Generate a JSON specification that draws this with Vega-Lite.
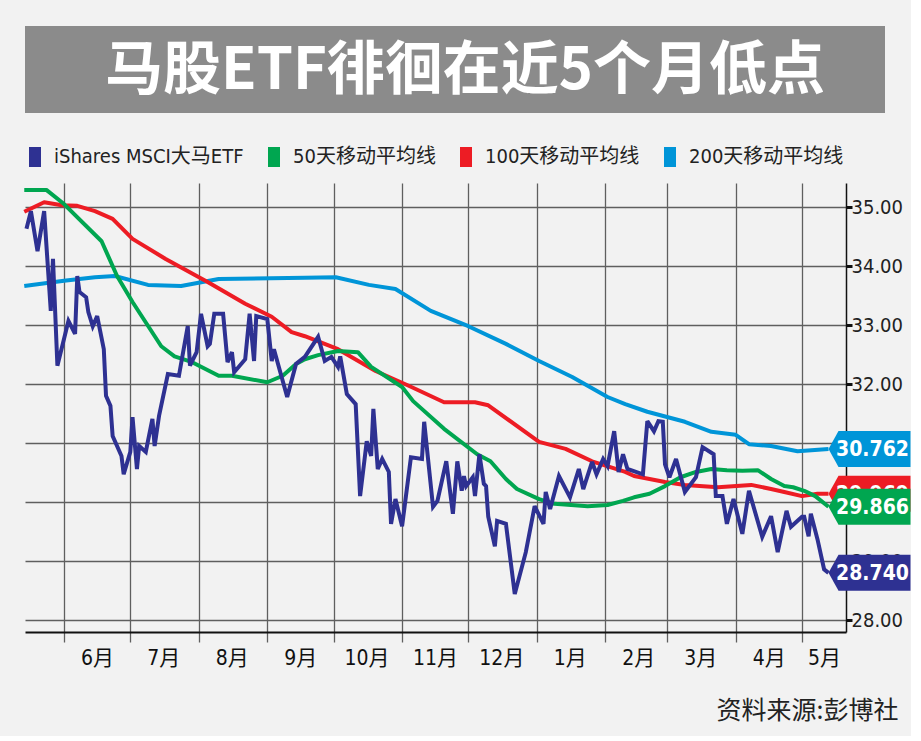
{
 "$schema": "https://vega.github.io/schema/vega-lite/v6.json",
 "background": "#f2f2f2",
 "padding": {"left": 20, "top": 26, "right": 0, "bottom": 13},
 "spacing": 34,
 "resolve": {"legend": {"fill": "independent"}, "scale": {"fill": "independent"}},
 "config": {"view": {"stroke": null}, "font": "DejaVu Sans Condensed, Roboto, sans-serif"},
 "datasets": {
  "labels": [
   {"series": "200天移动平均线", "date": "2019-05-13", "value": 30.90, "label": "30.762"},
   {"series": "100天移动平均线", "date": "2019-05-13", "value": 30.14, "label": "29.969"},
   {"series": "50天移动平均线", "date": "2019-05-13", "value": 29.92, "label": "29.866"},
   {"series": "iShares MSCI大马ETF", "date": "2019-05-13", "value": 28.80, "label": "28.740"}
  ],
  "lines": [
   {"series": "200天移动平均线", "date": "2018-05-14", "value": 33.66},
   {"series": "200天移动平均线", "date": "2018-06-01", "value": 33.75},
   {"series": "200天移动平均线", "date": "2018-06-15", "value": 33.81},
   {"series": "200天移动平均线", "date": "2018-06-24", "value": 33.83},
   {"series": "200天移动平均线", "date": "2018-07-09", "value": 33.68},
   {"series": "200天移动平均线", "date": "2018-07-24", "value": 33.66},
   {"series": "200天移动平均线", "date": "2018-08-10", "value": 33.78},
   {"series": "200天移动平均线", "date": "2018-09-18", "value": 33.80},
   {"series": "200天移动平均线", "date": "2018-10-02", "value": 33.81},
   {"series": "200天移动平均线", "date": "2018-10-17", "value": 33.68},
   {"series": "200天移动平均线", "date": "2018-10-29", "value": 33.61},
   {"series": "200天移动平均线", "date": "2018-11-14", "value": 33.24},
   {"series": "200天移动平均线", "date": "2018-12-01", "value": 32.98},
   {"series": "200天移动平均线", "date": "2018-12-18", "value": 32.68},
   {"series": "200天移动平均线", "date": "2019-01-02", "value": 32.39},
   {"series": "200天移动平均线", "date": "2019-01-17", "value": 32.12},
   {"series": "200天移动平均线", "date": "2019-02-02", "value": 31.78},
   {"series": "200天移动平均线", "date": "2019-02-10", "value": 31.66},
   {"series": "200天移动平均线", "date": "2019-02-20", "value": 31.53},
   {"series": "200天移动平均线", "date": "2019-03-09", "value": 31.36},
   {"series": "200天移动平均线", "date": "2019-03-21", "value": 31.19},
   {"series": "200天移动平均线", "date": "2019-04-01", "value": 31.14},
   {"series": "200天移动平均线", "date": "2019-04-07", "value": 30.98},
   {"series": "200天移动平均线", "date": "2019-04-17", "value": 30.95},
   {"series": "200天移动平均线", "date": "2019-04-29", "value": 30.86},
   {"series": "200天移动平均线", "date": "2019-05-13", "value": 30.90},

   {"series": "100天移动平均线", "date": "2018-05-14", "value": 34.92},
   {"series": "100天移动平均线", "date": "2018-05-23", "value": 35.08},
   {"series": "100天移动平均线", "date": "2018-05-31", "value": 35.03},
   {"series": "100天移动平均线", "date": "2018-06-07", "value": 35.02},
   {"series": "100天移动平均线", "date": "2018-06-15", "value": 34.93},
   {"series": "100天移动平均线", "date": "2018-06-23", "value": 34.80},
   {"series": "100天移动平均线", "date": "2018-07-02", "value": 34.46},
   {"series": "100天移动平均线", "date": "2018-07-17", "value": 34.12},
   {"series": "100天移动平均线", "date": "2018-08-05", "value": 33.73},
   {"series": "100天移动平均线", "date": "2018-08-22", "value": 33.36},
   {"series": "100天移动平均线", "date": "2018-09-03", "value": 33.14},
   {"series": "100天移动平均线", "date": "2018-09-12", "value": 32.88},
   {"series": "100天移动平均线", "date": "2018-09-18", "value": 32.81},
   {"series": "100天移动平均线", "date": "2018-10-03", "value": 32.59},
   {"series": "100天移动平均线", "date": "2018-10-20", "value": 32.22},
   {"series": "100天移动平均线", "date": "2018-11-04", "value": 31.97},
   {"series": "100天移动平均线", "date": "2018-11-20", "value": 31.69},
   {"series": "100天移动平均线", "date": "2018-12-04", "value": 31.69},
   {"series": "100天移动平均线", "date": "2018-12-10", "value": 31.64},
   {"series": "100天移动平均线", "date": "2019-01-02", "value": 31.02},
   {"series": "100天移动平均线", "date": "2019-01-14", "value": 30.90},
   {"series": "100天移动平均线", "date": "2019-01-26", "value": 30.69},
   {"series": "100天移动平均线", "date": "2019-02-10", "value": 30.51},
   {"series": "100天移动平均线", "date": "2019-02-14", "value": 30.44},
   {"series": "100天移动平均线", "date": "2019-02-28", "value": 30.34},
   {"series": "100天移动平均线", "date": "2019-03-09", "value": 30.29},
   {"series": "100天移动平均线", "date": "2019-03-24", "value": 30.25},
   {"series": "100天移动平均线", "date": "2019-04-08", "value": 30.29},
   {"series": "100天移动平均线", "date": "2019-04-17", "value": 30.22},
   {"series": "100天移动平均线", "date": "2019-04-23", "value": 30.17},
   {"series": "100天移动平均线", "date": "2019-05-01", "value": 30.10},
   {"series": "100天移动平均线", "date": "2019-05-08", "value": 30.14},
   {"series": "100天移动平均线", "date": "2019-05-13", "value": 30.14},

   {"series": "50天移动平均线", "date": "2018-05-14", "value": 35.29},
   {"series": "50天移动平均线", "date": "2018-05-24", "value": 35.29},
   {"series": "50天移动平均线", "date": "2018-06-01", "value": 35.05},
   {"series": "50天移动平均线", "date": "2018-06-18", "value": 34.42},
   {"series": "50天移动平均线", "date": "2018-06-25", "value": 33.83},
   {"series": "50天移动平均线", "date": "2018-07-02", "value": 33.39},
   {"series": "50天移动平均线", "date": "2018-07-15", "value": 32.64},
   {"series": "50天移动平均线", "date": "2018-07-21", "value": 32.47},
   {"series": "50天移动平均线", "date": "2018-07-29", "value": 32.37},
   {"series": "50天移动平均线", "date": "2018-08-10", "value": 32.14},
   {"series": "50天移动平均线", "date": "2018-08-16", "value": 32.14},
   {"series": "50天移动平均线", "date": "2018-09-01", "value": 32.03},
   {"series": "50天移动平均线", "date": "2018-09-08", "value": 32.14},
   {"series": "50天移动平均线", "date": "2018-09-14", "value": 32.34},
   {"series": "50天移动平均线", "date": "2018-09-18", "value": 32.42},
   {"series": "50天移动平均线", "date": "2018-09-24", "value": 32.49},
   {"series": "50天移动平均线", "date": "2018-10-03", "value": 32.56},
   {"series": "50天移动平均线", "date": "2018-10-12", "value": 32.54},
   {"series": "50天移动平均线", "date": "2018-10-18", "value": 32.29},
   {"series": "50天移动平均线", "date": "2018-11-01", "value": 31.95},
   {"series": "50天移动平均线", "date": "2018-11-06", "value": 31.71},
   {"series": "50天移动平均线", "date": "2018-11-20", "value": 31.24},
   {"series": "50天移动平均线", "date": "2018-12-05", "value": 30.81},
   {"series": "50天移动平均线", "date": "2018-12-11", "value": 30.69},
   {"series": "50天移动平均线", "date": "2018-12-18", "value": 30.39},
   {"series": "50天移动平均线", "date": "2018-12-23", "value": 30.22},
   {"series": "50天移动平均线", "date": "2019-01-02", "value": 30.05},
   {"series": "50天移动平均线", "date": "2019-01-09", "value": 29.97},
   {"series": "50天移动平均线", "date": "2019-01-24", "value": 29.93},
   {"series": "50天移动平均线", "date": "2019-02-02", "value": 29.95},
   {"series": "50天移动平均线", "date": "2019-02-09", "value": 30.02},
   {"series": "50天移动平均线", "date": "2019-02-14", "value": 30.08},
   {"series": "50天移动平均线", "date": "2019-02-21", "value": 30.14},
   {"series": "50天移动平均线", "date": "2019-02-28", "value": 30.27},
   {"series": "50天移动平均线", "date": "2019-03-07", "value": 30.42},
   {"series": "50天移动平均线", "date": "2019-03-14", "value": 30.51},
   {"series": "50天移动平均线", "date": "2019-03-21", "value": 30.56},
   {"series": "50天移动平均线", "date": "2019-03-28", "value": 30.54},
   {"series": "50天移动平均线", "date": "2019-04-04", "value": 30.53},
   {"series": "50天移动平均线", "date": "2019-04-11", "value": 30.54},
   {"series": "50天移动平均线", "date": "2019-04-17", "value": 30.39},
   {"series": "50天移动平均线", "date": "2019-04-23", "value": 30.27},
   {"series": "50天移动平均线", "date": "2019-04-27", "value": 30.25},
   {"series": "50天移动平均线", "date": "2019-05-02", "value": 30.19},
   {"series": "50天移动平均线", "date": "2019-05-07", "value": 30.10},
   {"series": "50天移动平均线", "date": "2019-05-13", "value": 29.92},

   {"series": "iShares MSCI大马ETF", "date": "2018-05-15", "value": 34.63},
   {"series": "iShares MSCI大马ETF", "date": "2018-05-17", "value": 34.93},
   {"series": "iShares MSCI大马ETF", "date": "2018-05-20", "value": 34.25},
   {"series": "iShares MSCI大马ETF", "date": "2018-05-23", "value": 34.93},
   {"series": "iShares MSCI大马ETF", "date": "2018-05-26", "value": 33.24},
   {"series": "iShares MSCI大马ETF", "date": "2018-05-27", "value": 34.12},
   {"series": "iShares MSCI大马ETF", "date": "2018-05-29", "value": 32.31},
   {"series": "iShares MSCI大马ETF", "date": "2018-06-03", "value": 33.07},
   {"series": "iShares MSCI大马ETF", "date": "2018-06-06", "value": 32.85},
   {"series": "iShares MSCI大马ETF", "date": "2018-06-07", "value": 33.83},
   {"series": "iShares MSCI大马ETF", "date": "2018-06-08", "value": 33.56},
   {"series": "iShares MSCI大马ETF", "date": "2018-06-11", "value": 33.47},
   {"series": "iShares MSCI大马ETF", "date": "2018-06-12", "value": 33.22},
   {"series": "iShares MSCI大马ETF", "date": "2018-06-14", "value": 32.98},
   {"series": "iShares MSCI大马ETF", "date": "2018-06-16", "value": 33.15},
   {"series": "iShares MSCI大马ETF", "date": "2018-06-19", "value": 32.59},
   {"series": "iShares MSCI大马ETF", "date": "2018-06-20", "value": 31.80},
   {"series": "iShares MSCI大马ETF", "date": "2018-06-22", "value": 31.63},
   {"series": "iShares MSCI大马ETF", "date": "2018-06-23", "value": 31.12},
   {"series": "iShares MSCI大马ETF", "date": "2018-06-27", "value": 30.78},
   {"series": "iShares MSCI大马ETF", "date": "2018-06-28", "value": 30.47},
   {"series": "iShares MSCI大马ETF", "date": "2018-07-01", "value": 30.85},
   {"series": "iShares MSCI大马ETF", "date": "2018-07-02", "value": 31.44},
   {"series": "iShares MSCI大马ETF", "date": "2018-07-04", "value": 30.56},
   {"series": "iShares MSCI大马ETF", "date": "2018-07-05", "value": 30.95},
   {"series": "iShares MSCI大马ETF", "date": "2018-07-08", "value": 30.85},
   {"series": "iShares MSCI大马ETF", "date": "2018-07-11", "value": 31.41},
   {"series": "iShares MSCI大马ETF", "date": "2018-07-12", "value": 30.95},
   {"series": "iShares MSCI大马ETF", "date": "2018-07-14", "value": 31.46},
   {"series": "iShares MSCI大马ETF", "date": "2018-07-18", "value": 32.17},
   {"series": "iShares MSCI大马ETF", "date": "2018-07-23", "value": 32.14},
   {"series": "iShares MSCI大马ETF", "date": "2018-07-27", "value": 32.98},
   {"series": "iShares MSCI大马ETF", "date": "2018-07-28", "value": 32.31},
   {"series": "iShares MSCI大马ETF", "date": "2018-07-31", "value": 32.54},
   {"series": "iShares MSCI大马ETF", "date": "2018-08-02", "value": 33.19},
   {"series": "iShares MSCI大马ETF", "date": "2018-08-05", "value": 32.64},
   {"series": "iShares MSCI大马ETF", "date": "2018-08-06", "value": 32.68},
   {"series": "iShares MSCI大马ETF", "date": "2018-08-08", "value": 33.19},
   {"series": "iShares MSCI大马ETF", "date": "2018-08-12", "value": 33.19},
   {"series": "iShares MSCI大马ETF", "date": "2018-08-14", "value": 32.37},
   {"series": "iShares MSCI大马ETF", "date": "2018-08-16", "value": 32.54},
   {"series": "iShares MSCI大马ETF", "date": "2018-08-17", "value": 32.20},
   {"series": "iShares MSCI大马ETF", "date": "2018-08-22", "value": 32.42},
   {"series": "iShares MSCI大马ETF", "date": "2018-08-24", "value": 33.19},
   {"series": "iShares MSCI大马ETF", "date": "2018-08-26", "value": 32.39},
   {"series": "iShares MSCI大马ETF", "date": "2018-08-27", "value": 33.15},
   {"series": "iShares MSCI大马ETF", "date": "2018-09-01", "value": 33.10},
   {"series": "iShares MSCI大马ETF", "date": "2018-09-03", "value": 32.39},
   {"series": "iShares MSCI大马ETF", "date": "2018-09-04", "value": 32.59},
   {"series": "iShares MSCI大马ETF", "date": "2018-09-10", "value": 31.78},
   {"series": "iShares MSCI大马ETF", "date": "2018-09-14", "value": 32.34},
   {"series": "iShares MSCI大马ETF", "date": "2018-09-18", "value": 32.46},
   {"series": "iShares MSCI大马ETF", "date": "2018-09-24", "value": 32.80},
   {"series": "iShares MSCI大马ETF", "date": "2018-09-27", "value": 32.39},
   {"series": "iShares MSCI大马ETF", "date": "2018-09-30", "value": 32.46},
   {"series": "iShares MSCI大马ETF", "date": "2018-10-03", "value": 32.29},
   {"series": "iShares MSCI大马ETF", "date": "2018-10-04", "value": 32.47},
   {"series": "iShares MSCI大马ETF", "date": "2018-10-07", "value": 31.83},
   {"series": "iShares MSCI大马ETF", "date": "2018-10-11", "value": 31.66},
   {"series": "iShares MSCI大马ETF", "date": "2018-10-13", "value": 30.10},
   {"series": "iShares MSCI大马ETF", "date": "2018-10-16", "value": 31.03},
   {"series": "iShares MSCI大马ETF", "date": "2018-10-18", "value": 30.78},
   {"series": "iShares MSCI大马ETF", "date": "2018-10-19", "value": 31.58},
   {"series": "iShares MSCI大马ETF", "date": "2018-10-21", "value": 30.56},
   {"series": "iShares MSCI大马ETF", "date": "2018-10-23", "value": 30.73},
   {"series": "iShares MSCI大马ETF", "date": "2018-10-26", "value": 30.51},
   {"series": "iShares MSCI大马ETF", "date": "2018-10-27", "value": 29.63},
   {"series": "iShares MSCI大马ETF", "date": "2018-10-29", "value": 30.05},
   {"series": "iShares MSCI大马ETF", "date": "2018-11-01", "value": 29.59},
   {"series": "iShares MSCI大马ETF", "date": "2018-11-05", "value": 30.76},
   {"series": "iShares MSCI大马ETF", "date": "2018-11-10", "value": 30.73},
   {"series": "iShares MSCI大马ETF", "date": "2018-11-11", "value": 31.36},
   {"series": "iShares MSCI大马ETF", "date": "2018-11-15", "value": 29.92},
   {"series": "iShares MSCI大马ETF", "date": "2018-11-17", "value": 30.02},
   {"series": "iShares MSCI大马ETF", "date": "2018-11-21", "value": 30.69},
   {"series": "iShares MSCI大马ETF", "date": "2018-11-24", "value": 29.80},
   {"series": "iShares MSCI大马ETF", "date": "2018-11-26", "value": 30.69},
   {"series": "iShares MSCI大马ETF", "date": "2018-11-28", "value": 30.19},
   {"series": "iShares MSCI大马ETF", "date": "2018-11-29", "value": 30.44},
   {"series": "iShares MSCI大马ETF", "date": "2018-11-30", "value": 30.27},
   {"series": "iShares MSCI大马ETF", "date": "2018-12-03", "value": 30.42},
   {"series": "iShares MSCI大马ETF", "date": "2018-12-04", "value": 30.10},
   {"series": "iShares MSCI大马ETF", "date": "2018-12-06", "value": 30.81},
   {"series": "iShares MSCI大马ETF", "date": "2018-12-08", "value": 30.31},
   {"series": "iShares MSCI大马ETF", "date": "2018-12-09", "value": 30.27},
   {"series": "iShares MSCI大马ETF", "date": "2018-12-10", "value": 29.75},
   {"series": "iShares MSCI大马ETF", "date": "2018-12-13", "value": 29.25},
   {"series": "iShares MSCI大马ETF", "date": "2018-12-14", "value": 29.68},
   {"series": "iShares MSCI大马ETF", "date": "2018-12-18", "value": 29.63},
   {"series": "iShares MSCI大马ETF", "date": "2018-12-22", "value": 28.44},
   {"series": "iShares MSCI大马ETF", "date": "2018-12-27", "value": 29.15},
   {"series": "iShares MSCI大马ETF", "date": "2018-12-31", "value": 29.93},
   {"series": "iShares MSCI大马ETF", "date": "2019-01-04", "value": 29.63},
   {"series": "iShares MSCI大马ETF", "date": "2019-01-05", "value": 30.17},
   {"series": "iShares MSCI大马ETF", "date": "2019-01-07", "value": 29.88},
   {"series": "iShares MSCI大马ETF", "date": "2019-01-11", "value": 30.44},
   {"series": "iShares MSCI大马ETF", "date": "2019-01-16", "value": 30.08},
   {"series": "iShares MSCI大马ETF", "date": "2019-01-20", "value": 30.56},
   {"series": "iShares MSCI大马ETF", "date": "2019-01-22", "value": 30.22},
   {"series": "iShares MSCI大马ETF", "date": "2019-01-26", "value": 30.68},
   {"series": "iShares MSCI大马ETF", "date": "2019-01-28", "value": 30.47},
   {"series": "iShares MSCI大马ETF", "date": "2019-01-31", "value": 30.73},
   {"series": "iShares MSCI大马ETF", "date": "2019-02-02", "value": 30.61},
   {"series": "iShares MSCI大马ETF", "date": "2019-02-05", "value": 31.20},
   {"series": "iShares MSCI大马ETF", "date": "2019-02-07", "value": 30.51},
   {"series": "iShares MSCI大马ETF", "date": "2019-02-09", "value": 30.81},
   {"series": "iShares MSCI大马ETF", "date": "2019-02-11", "value": 30.56},
   {"series": "iShares MSCI大马ETF", "date": "2019-02-18", "value": 30.47},
   {"series": "iShares MSCI大马ETF", "date": "2019-02-20", "value": 31.37},
   {"series": "iShares MSCI大马ETF", "date": "2019-02-23", "value": 31.20},
   {"series": "iShares MSCI大马ETF", "date": "2019-02-25", "value": 31.37},
   {"series": "iShares MSCI大马ETF", "date": "2019-02-27", "value": 31.36},
   {"series": "iShares MSCI大马ETF", "date": "2019-02-28", "value": 30.64},
   {"series": "iShares MSCI大马ETF", "date": "2019-03-02", "value": 30.42},
   {"series": "iShares MSCI大马ETF", "date": "2019-03-05", "value": 30.73},
   {"series": "iShares MSCI大马ETF", "date": "2019-03-09", "value": 30.17},
   {"series": "iShares MSCI大马ETF", "date": "2019-03-14", "value": 30.42},
   {"series": "iShares MSCI大马ETF", "date": "2019-03-17", "value": 30.93},
   {"series": "iShares MSCI大马ETF", "date": "2019-03-22", "value": 30.81},
   {"series": "iShares MSCI大马ETF", "date": "2019-03-23", "value": 30.10},
   {"series": "iShares MSCI大马ETF", "date": "2019-03-26", "value": 30.10},
   {"series": "iShares MSCI大马ETF", "date": "2019-03-28", "value": 29.63},
   {"series": "iShares MSCI大马ETF", "date": "2019-03-31", "value": 30.05},
   {"series": "iShares MSCI大马ETF", "date": "2019-04-04", "value": 29.46},
   {"series": "iShares MSCI大马ETF", "date": "2019-04-07", "value": 30.19},
   {"series": "iShares MSCI大马ETF", "date": "2019-04-13", "value": 29.41},
   {"series": "iShares MSCI大马ETF", "date": "2019-04-17", "value": 29.76},
   {"series": "iShares MSCI大马ETF", "date": "2019-04-20", "value": 29.15},
   {"series": "iShares MSCI大马ETF", "date": "2019-04-24", "value": 29.85},
   {"series": "iShares MSCI大马ETF", "date": "2019-04-26", "value": 29.58},
   {"series": "iShares MSCI大马ETF", "date": "2019-05-01", "value": 29.75},
   {"series": "iShares MSCI大马ETF", "date": "2019-05-02", "value": 29.75},
   {"series": "iShares MSCI大马ETF", "date": "2019-05-04", "value": 29.42},
   {"series": "iShares MSCI大马ETF", "date": "2019-05-05", "value": 29.80},
   {"series": "iShares MSCI大马ETF", "date": "2019-05-08", "value": 29.37},
   {"series": "iShares MSCI大马ETF", "date": "2019-05-11", "value": 28.86},
   {"series": "iShares MSCI大马ETF", "date": "2019-05-13", "value": 28.80}
  ]
 },
 "vconcat": [
  {
   "width": 860,
   "height": 87,
   "view": {"fill": "#8b8b8b", "stroke": null},
   "data": {"values": [{"t": "马股ETF徘徊在近5个月低点"}]},
   "mark": {"type": "text", "font": "Noto Sans CJK SC", "fontWeight": "bold", "fontSize": 58, "color": "#ffffff", "baseline": "middle", "align": "center", "dx": 10, "dy": 2},
   "encoding": {"text": {"field": "t", "type": "nominal"}}
  },
  {
   "width": 821,
   "height": 449,
   "encoding": {
    "x": {
     "field": "date", "type": "temporal",
     "scale": {"type": "utc", "domain": [{"year": 2018, "month": 5, "date": 14, "hours": 8, "utc": true}, {"year": 2019, "month": 5, "date": 20, "hours": 22, "utc": true}]},
     "axis": {
      "tickCount": {"interval": "month", "step": 1},
      "grid": true, "gridColor": "#5f5f5f", "gridWidth": 1.3, "gridOpacity": 1,
      "domainColor": "#111111", "domainWidth": 2,
      "ticks": true, "tickSize": 10, "tickColor": "#5f5f5f", "tickWidth": 1.3,
      "labelExpr": "utcFormat(datum.value, '%-m') + '月'",
      "labelOffset": {"condition": {"test": "utcmonth(datum.value) === 4", "value": 22}, "value": 33},
      "labelAlign": "center", "labelBaseline": "top", "labelPadding": 5,
      "labelFont": "DejaVu Sans Condensed, Roboto, Noto Sans CJK SC", "labelFontSize": 21, "labelColor": "#111111",
      "labelFlush": false, "labelOverlap": false,
      "title": "资料来源:彭博社",
      "titleFont": "Noto Sans CJK SC", "titleFontSize": 25, "titleFontWeight": "normal", "titleColor": "#222222",
      "titleAlign": "right", "titleBaseline": "middle", "titleX": 873, "titleY": 78
     }
    },
    "y": {
     "field": "value", "type": "quantitative",
     "scale": {"domain": [27.797, 35.407], "nice": false, "zero": false},
     "axis": {
      "orient": "right", "values": [28, 29, 30, 31, 32, 33, 34, 35], "format": ".2f",
      "grid": true, "gridColor": "#5f5f5f", "gridWidth": 1.3, "gridOpacity": 1,
      "domainColor": "#111111", "domainWidth": 1.5,
      "tickSize": 6, "tickWidth": 3, "tickColor": "#111111",
      "labelFont": "DejaVu Sans Condensed, Roboto", "labelFontSize": 20, "labelColor": "#222222", "labelPadding": -1,
      "title": null
     }
    }
   },
   "layer": [
    {
     "data": {"name": "lines"},
     "transform": [{"filter": "datum.series === '200天移动平均线'"}],
     "mark": {"type": "line", "strokeWidth": 4, "strokeJoin": "round"},
     "encoding": {"stroke": {"field": "series", "type": "nominal", "legend": null, "scale": {"domain": ["200天移动平均线", "100天移动平均线", "50天移动平均线", "iShares MSCI大马ETF"], "range": ["#0095d8", "#ed1c24", "#00a650", "#2e3192"]}}}
    },
    {
     "data": {"name": "lines"},
     "transform": [{"filter": "datum.series === '100天移动平均线'"}],
     "mark": {"type": "line", "strokeWidth": 4, "strokeJoin": "round"},
     "encoding": {"stroke": {"field": "series", "type": "nominal", "legend": null, "scale": {"domain": ["200天移动平均线", "100天移动平均线", "50天移动平均线", "iShares MSCI大马ETF"], "range": ["#0095d8", "#ed1c24", "#00a650", "#2e3192"]}}}
    },
    {
     "data": {"name": "lines"},
     "transform": [{"filter": "datum.series === '50天移动平均线'"}],
     "mark": {"type": "line", "strokeWidth": 4, "strokeJoin": "round"},
     "encoding": {"stroke": {"field": "series", "type": "nominal", "legend": null, "scale": {"domain": ["200天移动平均线", "100天移动平均线", "50天移动平均线", "iShares MSCI大马ETF"], "range": ["#0095d8", "#ed1c24", "#00a650", "#2e3192"]}}}
    },
    {
     "data": {"name": "lines"},
     "transform": [{"filter": "datum.series === 'iShares MSCI大马ETF'"}],
     "mark": {"type": "line", "strokeWidth": 4, "strokeJoin": "miter", "strokeMiterLimit": 3},
     "encoding": {"stroke": {"field": "series", "type": "nominal", "legend": null, "scale": {"domain": ["200天移动平均线", "100天移动平均线", "50天移动平均线", "iShares MSCI大马ETF"], "range": ["#0095d8", "#ed1c24", "#00a650", "#2e3192"]}}}
    },
    {
     "data": {"name": "labels"},
     "transform": [{"filter": "datum.series === '200天移动平均线'"}],
     "layer": [
      {
       "mark": {"type": "point", "shape": "M0,0L0.5,-0.9L4.1,-0.9L4.1,0.9L0.5,0.9Z", "size": 1600, "filled": true, "opacity": 1, "strokeWidth": 0},
       "encoding": {"fill": {"field": "series", "type": "nominal", "scale": {"domain": ["iShares MSCI大马ETF", "50天移动平均线", "100天移动平均线", "200天移动平均线"], "range": ["#2e3192", "#00a650", "#ed1c24", "#0095d8"]}, "legend": {"orient": "top", "direction": "horizontal", "title": null, "symbolType": "M-0.6,-1H0.6V1H-0.6Z", "symbolSize": 400, "symbolStrokeWidth": 0, "symbolOpacity": 1, "labelFont": "DejaVu Sans Condensed, Roboto, Noto Sans CJK SC", "labelFontSize": 20, "labelColor": "#222222", "labelOffset": 9, "labelLimit": 400, "columnPadding": 20, "offset": 16, "padding": 0}}}
      },
      {
       "mark": {"type": "text", "color": "#ffffff", "font": "DejaVu Sans Condensed, Roboto", "fontWeight": "bold", "fontSize": 21, "dx": 44, "dy": 1, "align": "center", "baseline": "middle"},
       "encoding": {"text": {"field": "label", "type": "nominal"}}
      }
     ]
    },
    {
     "data": {"name": "labels"},
     "transform": [{"filter": "datum.series === '100天移动平均线'"}],
     "layer": [
      {
       "mark": {"type": "point", "shape": "M0,0L0.5,-0.9L4.1,-0.9L4.1,0.9L0.5,0.9Z", "size": 1600, "filled": true, "opacity": 1, "strokeWidth": 0},
       "encoding": {"fill": {"field": "series", "type": "nominal", "scale": {"domain": ["iShares MSCI大马ETF", "50天移动平均线", "100天移动平均线", "200天移动平均线"], "range": ["#2e3192", "#00a650", "#ed1c24", "#0095d8"]}, "legend": {"orient": "top", "direction": "horizontal", "title": null, "symbolType": "M-0.6,-1H0.6V1H-0.6Z", "symbolSize": 400, "symbolStrokeWidth": 0, "symbolOpacity": 1, "labelFont": "DejaVu Sans Condensed, Roboto, Noto Sans CJK SC", "labelFontSize": 20, "labelColor": "#222222", "labelOffset": 9, "labelLimit": 400, "columnPadding": 20, "offset": 16, "padding": 0}}}
      },
      {
       "mark": {"type": "text", "color": "#ffffff", "font": "DejaVu Sans Condensed, Roboto", "fontWeight": "bold", "fontSize": 21, "dx": 44, "dy": 1, "align": "center", "baseline": "middle"},
       "encoding": {"text": {"field": "label", "type": "nominal"}}
      }
     ]
    },
    {
     "data": {"name": "labels"},
     "transform": [{"filter": "datum.series === '50天移动平均线'"}],
     "layer": [
      {
       "mark": {"type": "point", "shape": "M0,0L0.5,-0.9L4.1,-0.9L4.1,0.9L0.5,0.9Z", "size": 1600, "filled": true, "opacity": 1, "strokeWidth": 0},
       "encoding": {"fill": {"field": "series", "type": "nominal", "scale": {"domain": ["iShares MSCI大马ETF", "50天移动平均线", "100天移动平均线", "200天移动平均线"], "range": ["#2e3192", "#00a650", "#ed1c24", "#0095d8"]}, "legend": {"orient": "top", "direction": "horizontal", "title": null, "symbolType": "M-0.6,-1H0.6V1H-0.6Z", "symbolSize": 400, "symbolStrokeWidth": 0, "symbolOpacity": 1, "labelFont": "DejaVu Sans Condensed, Roboto, Noto Sans CJK SC", "labelFontSize": 20, "labelColor": "#222222", "labelOffset": 9, "labelLimit": 400, "columnPadding": 20, "offset": 16, "padding": 0}}}
      },
      {
       "mark": {"type": "text", "color": "#ffffff", "font": "DejaVu Sans Condensed, Roboto", "fontWeight": "bold", "fontSize": 21, "dx": 44, "dy": 1, "align": "center", "baseline": "middle"},
       "encoding": {"text": {"field": "label", "type": "nominal"}}
      }
     ]
    },
    {
     "data": {"name": "labels"},
     "transform": [{"filter": "datum.series === 'iShares MSCI大马ETF'"}],
     "layer": [
      {
       "mark": {"type": "point", "shape": "M0,0L0.5,-0.9L4.1,-0.9L4.1,0.9L0.5,0.9Z", "size": 1600, "filled": true, "opacity": 1, "strokeWidth": 0},
       "encoding": {"fill": {"field": "series", "type": "nominal", "scale": {"domain": ["iShares MSCI大马ETF", "50天移动平均线", "100天移动平均线", "200天移动平均线"], "range": ["#2e3192", "#00a650", "#ed1c24", "#0095d8"]}, "legend": {"orient": "top", "direction": "horizontal", "title": null, "symbolType": "M-0.6,-1H0.6V1H-0.6Z", "symbolSize": 400, "symbolStrokeWidth": 0, "symbolOpacity": 1, "labelFont": "DejaVu Sans Condensed, Roboto, Noto Sans CJK SC", "labelFontSize": 20, "labelColor": "#222222", "labelOffset": 9, "labelLimit": 400, "columnPadding": 20, "offset": 16, "padding": 0}}}
      },
      {
       "mark": {"type": "text", "color": "#ffffff", "font": "DejaVu Sans Condensed, Roboto", "fontWeight": "bold", "fontSize": 21, "dx": 44, "dy": 1, "align": "center", "baseline": "middle"},
       "encoding": {"text": {"field": "label", "type": "nominal"}}
      }
     ]
    }
   ]
  }
 ]
}
